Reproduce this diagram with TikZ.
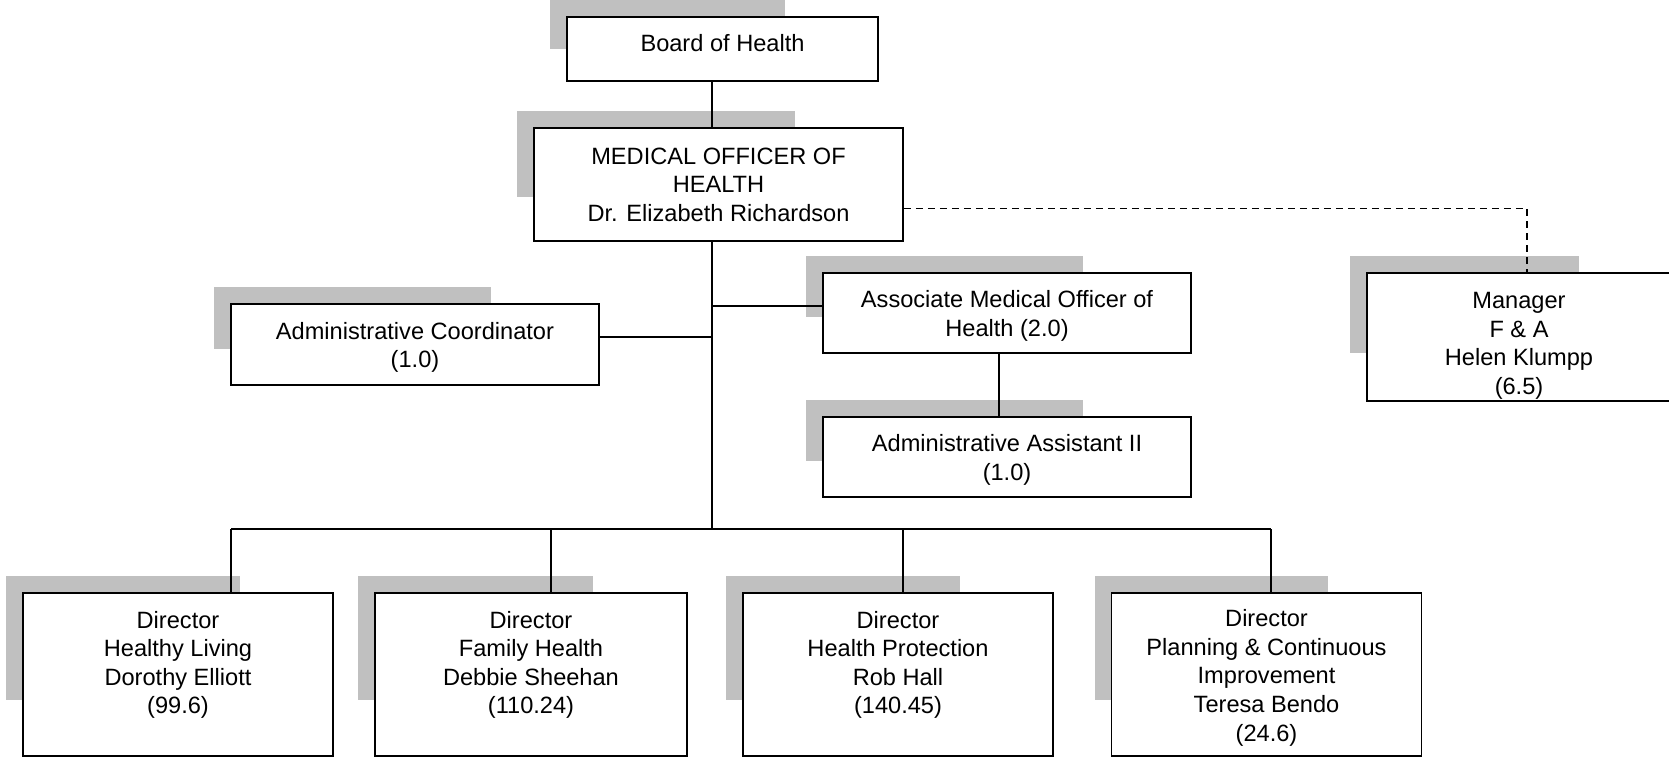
\documentclass[tikz,border=0pt]{standalone}
\usepackage{fontspec}
\setmainfont{Liberation Sans}
\usepackage{tikz}
\usetikzlibrary{positioning,calc,backgrounds}
\definecolor{shadowgray}{HTML}{C0C0C0}
% struts to nudge the text inside a box
\newcommand{\padtop}[1]{\rule{0pt}{#1}}
\newcommand{\padbottom}[1]{\rule[-#1]{0pt}{#1}}

\begin{document}
\begin{tikzpicture}[
      x=0.5pt, y=-0.5pt,
      post/.style={
        inner sep=0pt,
        shape=rectangle,
        draw=black,
        fill=white,
        line width=0.8pt,
        align=center,
        font=\fontsize{11.8}{14.3}\selectfont,
      },
      wide/.style={post, minimum width=184pt, minimum height=40pt},
      dir/.style={post, minimum width=155pt, minimum height=81.5pt},
      link/.style={line width=0.8pt},
      dotlink/.style={line width=0.8pt, dash pattern=on 3.5pt off 2.5pt},
    ]
      \useasboundingbox (0,0) rectangle (1669,757);
      % top of the chart
      \node[post, minimum width=155.5pt, minimum height=32pt] (board) at (722.5,49) {Board of Health\padbottom{6pt}};
      \node[post, minimum width=184.5pt, minimum height=56.5pt] (moh) at (718.5,184.5) {MEDICAL OFFICER OF\\HEALTH\\Dr. Elizabeth Richardson};
      \node[wide, minimum height=40.5pt] (admc) at (415,344.5) {\padtop{11.6pt}Administrative Coordinator\\(1.0)};
      \node[wide] (amoh) at (1007,313) {\padtop{11.6pt}Associate Medical Officer of\\Health (2.0)};
      \node[wide] (aa2) at (1007,457) {\padtop{11.6pt}Administrative Assistant II\\(1.0)};
      \node[post, minimum width=152pt, minimum height=64pt] (mgr) at (1519,337) {\padtop{17pt}Manager\\F \& A\\Helen Klumpp\\(6.5)};
      % directors
      \node[dir] (dir1) at (178,674.5) {\padtop{10.8pt}Director\\Healthy Living\\Dorothy Elliott\\(99.6)\\\mbox{}};
      \node[dir, minimum width=156pt] (dir2) at (531,674.5) {\padtop{10.8pt}Director\\Family Health\\Debbie Sheehan\\(110.24)\\\mbox{}};
      \node[dir] (dir3) at (898,674.5) {\padtop{10.8pt}Director\\Health Protection\\Rob Hall\\(140.45)\\\mbox{}};
      \node[dir] (dir4) at (1266.5,674.5) {\padtop{11.8pt}Director\\Planning \& Continuous\\Improvement\\Teresa Bendo\\(24.6)};
      % shadows
      \begin{scope}[on background layer]
        \foreach \n in {board,moh,admc,amoh,aa2,mgr,dir1,dir2,dir3,dir4}
          \fill[shadowgray] ($(\n.north west)+(-8pt,8pt)$) rectangle ($(\n.north west)!0.75!(\n.south east)+(-8pt,8pt)$);
      \end{scope}
      % lines
      \coordinate (bus) at (712,529);
      \coordinate (bus1) at (231,529);
      \coordinate (bus2) at (551,529);
      \coordinate (bus3) at (903,529);
      \coordinate (bus4) at (1271,529);
      \draw[link] (board.south -| bus) -- (moh.north -| bus);
      \draw[link] (moh.south -| bus) -- (bus);
      \draw[link] ([yshift=3.75pt]admc.east) -- ([yshift=3.75pt]admc.east -| bus);
      \draw[link] ([yshift=3.5pt]amoh.west) -- ([yshift=3.5pt]amoh.west -| bus);
      \draw[link] ([xshift=-4pt]amoh.south) -- ([xshift=-4pt]aa2.north);
      \draw[dotlink] ([yshift=-12pt]moh.east) -| ([xshift=4pt]mgr.north);
      \draw[link] (bus1) -- (bus4);
      \foreach \i in {1,...,4}
        \draw[link] (bus\i) -- (bus\i |- dir\i.north);
    \end{tikzpicture}
\end{document}
